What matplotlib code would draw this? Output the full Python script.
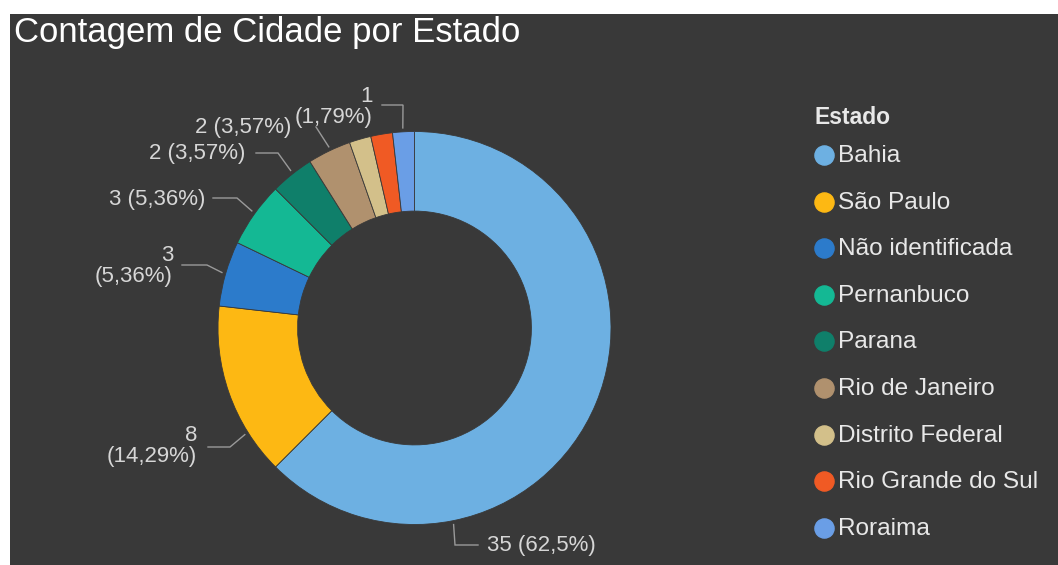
import numpy as np
import matplotlib
matplotlib.use('Agg')
import matplotlib.pyplot as plt

plt.rcParams['font.family'] = ['Liberation Sans', 'DejaVu Sans']

"""
Dados
"""
titulo = 'Contagem de Cidade por Estado'
estados = ['Bahia', 'São Paulo', 'Não identificada', 'Pernanbuco', 'Parana',
           'Rio de Janeiro', 'Distrito Federal', 'Rio Grande do Sul', 'Roraima']
contagem = [35, 8, 3, 3, 2, 2, 1, 1, 1]

cores = ['#6DB0E2', '#FDB813', '#2C7BCB', '#14B894', '#0F7F6A',
         '#B0916E', '#D3C08A', '#F05A24', '#6A9EE6']

"""
Layout (pixels)
"""
W, H = 1058, 565
fundo = '#393939'
cx, cy, R = 414.5, 328.0, 196.5
# idx: (fracao no arco, cotovelo(s) da linha, posicao do texto, ha, quebra)
rotulos = {
    0: (0.75, [(455, 545), (478, 545)], (487, 546), 'left', False),
    1: (0.25, [(230, 447), (208, 447)], (197, 446), 'right', True),
    2: (0.50, [(207, 265), (182, 265)], (173, 266), 'right', True),
    3: (0.52, [(237, 198), (213, 198)], (205, 199), 'right', False),
    4: (0.53, [(278, 153), (256, 153)], (245, 154), 'right', False),
    5: (0.53, [(316, 127)], (291, 128), 'right', False),
    8: (0.48, [(403, 105), (382, 105)], (373, 107), 'right', True),
}

total = float(sum(contagem))


def fmt_pct(v):
    s = ('%.2f' % (100.0*v/total)).rstrip('0').rstrip('.')
    return s.replace('.', ',') + '%'


fig = plt.figure(figsize=(W/100.0, H/100.0), dpi=100)
fig.patch.set_facecolor('white')

bg = fig.add_axes([10.0/W, 0, 1 - 10.0/W, (H - 14.0)/H])
bg.set_facecolor(fundo)
bg.set_xticks([])
bg.set_yticks([])
for s in bg.spines.values():
    s.set_visible(False)

ax = fig.add_axes([(cx - R)/W, (H - cy - R)/H, 2*R/W, 2*R/H])
ax.set_facecolor('none')
wedges, _ = ax.pie(contagem, colors=cores, startangle=90, counterclock=False,
                   radius=1.0,
                   wedgeprops=dict(width=0.405, edgecolor=fundo, linewidth=0.6))
ax.set_xlim(-1, 1)
ax.set_ylim(-1, 1)
ax.axis('off')

ov = fig.add_axes([0, 0, 1, 1])
ov.set_facecolor('none')
ov.set_xlim(0, W)
ov.set_ylim(H, 0)
ov.axis('off')

ov.text(14, 42, titulo, fontsize=25, color='white', ha='left',
        va='baseline')

# rotulos de dados com linhas guia
inicio = 90.0
for i, v in enumerate(contagem):
    span = 360.0*v/total
    if i in rotulos:
        f, cot, pos, ha, quebra = rotulos[i]
        ang = np.radians(inicio - f*span)
        tip = (cx + 1.02*R*np.cos(ang), cy - 1.02*R*np.sin(ang))
        pts = [tip] + cot
        ov.plot([p[0] for p in pts], [p[1] for p in pts], color='#9A9A9A',
                lw=1.0, solid_joinstyle='miter')
        sep = '\n' if quebra else ' '
        txt = '%d%s(%s)' % (v, sep, fmt_pct(v))
        if quebra:
            ov.text(pos[0], pos[1], txt, fontsize=16, color='#D6D6D6',
                    ha=ha, va='center', multialignment='right',
                    linespacing=1.05)
        else:
            ov.text(pos[0], pos[1], txt, fontsize=16, color='#D6D6D6',
                    ha=ha, va='center')
    inicio -= span

# legenda
ov.text(815, 117, 'Estado', fontsize=16.5, color='#E8E8E8', weight='bold',
        ha='left', va='center')
for i, nome in enumerate(estados):
    y = 155 + i*46.6
    ov.scatter([824], [y], s=190, color=cores[i], zorder=3)
    ov.text(838, y + 1, nome, fontsize=17.6, color='#E8E8E8', ha='left',
            va='center')

fig.savefig('out.png', dpi=100, facecolor=fig.get_facecolor())
